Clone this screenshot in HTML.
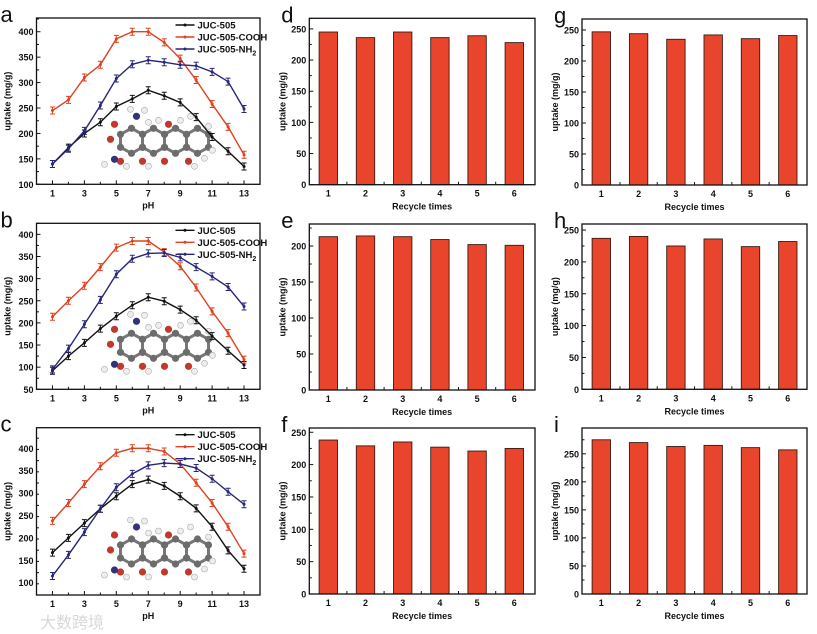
<!DOCTYPE html>
<html><head><meta charset="utf-8"><style>
body{margin:0;background:#fff;}
svg{display:block;font-family:"Liberation Sans",Arial,sans-serif;font-weight:bold;}
</style></head><body>
<svg id="fig" width="817" height="634" viewBox="0 0 817 634" xmlns="http://www.w3.org/2000/svg"></svg>
<script>
// ---- data ----
const pH = [1,2,3,4,5,6,7,8,9,10,11,12,13];
const seriesNames = ["JUC-505","JUC-505-COOH","JUC-505-NH2"];
const a_juc = [140,172,200,222,253,268,285,274,261,232,193,165,135];
const a_cooh = [245,266,310,335,386,400,400,379,347,305,258,213,158];
const a_nh2 = [140,170,205,255,308,336,344,340,335,333,321,302,248];
const b_juc = [92,125,155,187,215,240,258,249,230,206,170,137,105];
const b_cooh = [214,250,284,326,370,385,385,360,328,280,226,177,117];
const b_nh2 = [95,142,197,252,310,345,357,358,348,326,305,281,237];
const c_juc = [167,200,233,265,293,320,330,316,293,266,225,172,131];
const c_cooh = [238,278,320,360,390,400,400,393,365,323,278,225,165];
const c_nh2 = [115,162,213,265,313,343,362,367,365,356,332,303,275];
const cycles = [1,2,3,4,5,6];
const d_vals = [245,236,245,236,239,228];
const e_vals = [213,214,213,209,202,201];
const f_vals = [238,229,235,227,221,225];
const g_vals = [247,244,235,242,236,241];
const h_vals = [237,240,225,236,224,232];
const i_vals = [275,270,263,265,261,257];
const lineTicksA = [100,150,200,250,300,350,400];
const lineTicksB = [50,100,150,200,250,300,350,400];
const lineTicksC = [100,150,200,250,300,350,400];
const xTickLabels = [1,3,5,7,9,11,13];
const barTicksD = [0,50,100,150,200,250];
const barTicksE = [0,50,100,150,200];

const svg = document.getElementById('fig');
const NS = 'http://www.w3.org/2000/svg';
function mk(tag, attrs, parent){const e=document.createElementNS(NS,tag);for(const k in attrs)e.setAttribute(k,attrs[k]);(parent||svg).appendChild(e);return e;}
function txt(s, attrs, parent){const t=mk('text',attrs,parent);t.textContent=s;return t;}
const COLORS=['#111111','#e0401f','#26267a'];

function linePanel(id, letter, box, ymin, ymax, yticks, series){
  const g=mk('g',{});
  
  
  const X=v=>box.x0+(v-0)/(14-0)*(box.x1-box.x0);
  const Y=v=>box.y1-(v-ymin)/(ymax-ymin)*(box.y1-box.y0);
  const lt=txt(letter,{x:box.x0-36,y:box.y0+4,'font-size':22,'font-weight':'normal',fill:'#111'},g);
  
  
  const mol=mk('g',{},g);
  
  
  const mx=box.x0+72, my=box.y1-50;
  for(let r=0;r<4;r++){const cx=mx+12+r*22;
    mk('polygon',{points:[[cx,my],[cx+11,my-6],[cx+22,my],[cx+22,my+13],[cx+11,my+19],[cx,my+13]].map(p=>p.join(',')).join(' '),fill:'none',stroke:'#777','stroke-width':3},mol);
    [[cx,my],[cx+11,my-6],[cx+22,my],[cx+22,my+13],[cx+11,my+19],[cx,my+13]].forEach(p=>mk('circle',{cx:p[0],cy:p[1],r:3.6,fill:'#6c6c6c'},mol));
  }
  [[mx+12,my+27,'#c0392b'],[mx+34,my+27,'#c0392b'],[mx+56,my+27,'#c0392b'],[mx+80,my+27,'#c0392b'],[mx+6,my-10,'#c0392b'],[mx+2,my+5,'#c0392b'],[mx+28,my-18,'#33337a'],[mx+60,my-10,'#c0392b'],[mx+6,my+25,'#33337a']].forEach(p=>mk('circle',{cx:p[0],cy:p[1],r:3.6,fill:p[2]},mol));
  [[mx-4,my+30],[mx+18,my+32],[mx+40,my+32],[mx+86,my+32],[mx+22,my-25],[mx+36,my-24],[mx+50,my-14],[mx+72,my-14],[mx+82,my-18],[mx+100,my-8],[mx+104,my+16],[mx+96,my+24],[mx+40,my-12]].forEach(p=>mk('circle',{cx:p[0],cy:p[1],r:3,fill:'#eee',stroke:'#aaa','stroke-width':0.6},mol));
  const fr=mk('rect',{x:box.x0,y:box.y0,width:box.x1-box.x0,height:box.y1-box.y0,fill:'none',stroke:'#111','stroke-width':1.3},g);
  
  
  for(let v=ymin;v<=ymax;v+=25){ const y=Y(v); const major=yticks.includes(v); mk('line',{x1:box.x0,y1:y,x2:box.x0+(major?4:2.5),y2:y,stroke:'#111','stroke-width':1},g);}
  yticks.forEach(v=>{const t=txt(v,{x:box.x0-3,y:Y(v)+3.5,'font-size':9,'text-anchor':'end',fill:'#111'},g);
    });
  for(let v=1;v<=13;v++){mk('line',{x1:X(v),y1:box.y1,x2:X(v),y2:box.y1-(v%2?4:2.5),stroke:'#111','stroke-width':1},g);}
  xTickLabels.forEach(v=>{const t=txt(v,{x:X(v),y:box.y1+12,'font-size':9,'text-anchor':'middle',fill:'#111'},g);
    });
  const xt=txt('pH',{x:(box.x0+box.x1)/2,y:box.y1+24,'font-size':9,'text-anchor':'middle',fill:'#111'},g);
  
  const yt=txt('uptake (mg/g)',{x:0,y:0,'font-size':9,'text-anchor':'middle',fill:'#111',transform:`translate(${box.x0-26},${(box.y0+box.y1)/2}) rotate(-90)`},g);
  
  series.forEach((vals,si)=>{
    const sg=mk('g',{},g);
    
    
    mk('polyline',{points:vals.map((v,i)=>X(pH[i])+','+Y(v)).join(' '),fill:'none',stroke:COLORS[si],'stroke-width':1.4},sg);
    vals.forEach((v,i)=>{const x=X(pH[i]),y=Y(v);
      const p=mk('path',{d:`M${x-2.5},${y-3.5}H${x+2.5}M${x},${y-3.5}V${y+3.5}M${x-2.5},${y+3.5}H${x+2.5}`,stroke:COLORS[si],'stroke-width':1,fill:'none'},sg);
      
      mk('circle',{cx:x,cy:y,r:1.5,fill:COLORS[si]},sg);});
  });
  const lg=mk('g',{},g);
  
  
  seriesNames.forEach((n,si)=>{const ly=box.y0+7+si*12; const lx=box.x0+139;
    mk('line',{x1:lx,y1:ly,x2:lx+19,y2:ly,stroke:COLORS[si],'stroke-width':1.4},lg);
    mk('circle',{cx:lx+9.5,cy:ly,r:1.5,fill:COLORS[si]},lg);
    const t=txt('',{x:lx+22,y:ly+3.5,'font-size':9.5,fill:'#111'},lg);
    
    if(n.endsWith('NH2')){t.textContent='JUC-505-NH';const s=mk('tspan',{'font-size':7,dy:3},t);s.textContent='2';}
    else t.textContent=n;
  });
}

function barPanel(letter, box, c1, step, ymax, yticks, vals){
  const g=mk('g',{});
  
  
  const X=i=>c1+(i-1)*step;
  const Y=v=>box.y1-v/ymax*(box.y1-box.y0);
  const lt=txt(letter,{x:box.x0-28,y:box.y0+4,'font-size':22,'font-weight':'normal',fill:'#111'},g);
  
  vals.forEach((v,i)=>{const b=mk('rect',{x:X(cycles[i])-9.2,y:Y(v),width:18.4,height:box.y1-Y(v),fill:'#e8452c',stroke:'#3a1a12','stroke-width':0.9},g);
    });
  const fr=mk('rect',{x:box.x0,y:box.y0,width:box.x1-box.x0,height:box.y1-box.y0,fill:'none',stroke:'#111','stroke-width':1.3},g);
  
  for(let v=0;v<=ymax;v+=25){const y=Y(v);mk('line',{x1:box.x0,y1:y,x2:box.x0+(v%50?2.5:4),y2:y,stroke:'#111','stroke-width':1},g);}
  yticks.forEach(v=>{const t=txt(v,{x:box.x0-3,y:Y(v)+3.5,'font-size':9,'text-anchor':'end',fill:'#111'},g);
    });
  cycles.forEach(c=>{const t=txt(c,{x:X(c),y:box.y1+12,'font-size':9,'text-anchor':'middle',fill:'#111'},g);
    
    if(c<6) mk('line',{x1:X(c+0.5),y1:box.y1,x2:X(c+0.5),y2:box.y1-3,stroke:'#111','stroke-width':1},g);});
  const xt=txt('Recycle times',{x:(box.x0+box.x1)/2,y:box.y1+25,'font-size':9,'text-anchor':'middle',fill:'#111'},g);
  
  const yt=txt('uptake (mg/g)',{x:0,y:0,'font-size':9,'text-anchor':'middle',fill:'#111',transform:`translate(${box.x0-24},${(box.y0+box.y1)/2}) rotate(-90)`},g);
  
}

linePanel('a','a',{x0:36.5,x1:260,y0:18,y1:184.3},100,427,lineTicksA,[a_juc,a_cooh,a_nh2]);
linePanel('b','b',{x0:36.5,x1:260,y0:223.3,y1:389.3},50,425,lineTicksB,[b_juc,b_cooh,b_nh2]);
linePanel('c','c',{x0:36.5,x1:260,y0:427.7,y1:595},72.5,446,lineTicksC,[c_juc,c_cooh,c_nh2]);
barPanel('d',{x0:309.3,x1:535,y0:18.3,y1:184.7},328.3,37.2,267,barTicksD,d_vals);
barPanel('e',{x0:309.3,x1:535,y0:224,y1:390},328.3,37.2,230.6,barTicksE,e_vals);
barPanel('f',{x0:309.3,x1:535,y0:428,y1:594},328.3,37.2,256.6,barTicksD,f_vals);
barPanel('g',{x0:582,x1:807,y0:19,y1:185},601.3,37.3,267.7,barTicksD,g_vals);
barPanel('h',{x0:582,x1:807,y0:224,y1:389.3},601.3,37.3,259.5,barTicksD,h_vals);
barPanel('i',{x0:582,x1:807,y0:428,y1:594},601.3,37.3,296,barTicksD,i_vals);
const wm=txt('大数跨境',{x:40,y:628,'font-size':16,'font-weight':'normal',fill:'#d8d8d8','font-family':'"Liberation Sans","Noto Sans CJK SC",sans-serif'});


</script>
</body></html>
